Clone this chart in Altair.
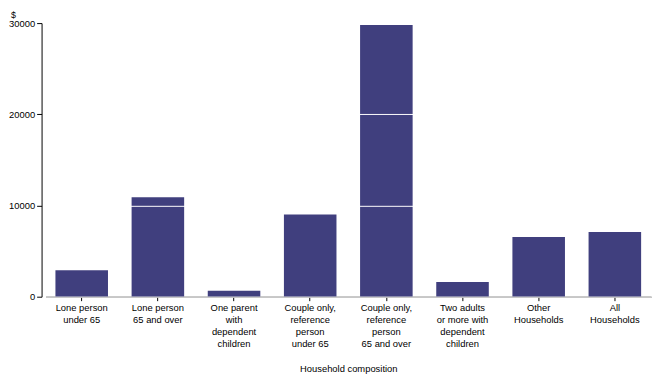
import altair as alt
import pandas as pd

categories = [
    "Lone person|under 65",
    "Lone person|65 and over",
    "One parent|with|dependent|children",
    "Couple only,|reference|person|under 65",
    "Couple only,|reference|person|65 and over",
    "Two adults|or more with|dependent|children",
    "Other|Households",
    "All|Households",
]
values = [2900, 10900, 650, 9000, 29800, 1600, 6550, 7100]
y_ticks = [0, 10000, 20000, 30000]

df = pd.DataFrame({"category": categories, "value": values})

FONT = "Liberation Sans"

chart = (
    alt.Chart(df)
    .mark_bar(color="#403F7E")
    .encode(
        x=alt.X(
            "category:N",
            sort=categories,
            title="Household composition",
            scale=alt.Scale(paddingInner=0.31, paddingOuter=0.13),
            axis=alt.Axis(
                labelAngle=0,
                labelExpr="split(datum.label, '|')",
                labelFont=FONT,
                labelFontSize=9.5,
                labelLineHeight=12,
                labelColor="black",
                labelPadding=2,
                labelBaseline="top",
                tickSize=4,
                tickColor="black",
                domainColor="black",
                titleFont=FONT,
                titleFontSize=9.5,
                titleFontWeight="normal",
                titleColor="black",
                titlePadding=16,
                grid=False,
            ),
        ),
        y=alt.Y(
            "value:Q",
            title="$",
            scale=alt.Scale(domain=[0, 30000], nice=False),
            axis=alt.Axis(
                values=y_ticks,
                format="d",
                offset=4,
                labelFont=FONT,
                labelFontSize=9.5,
                labelColor="black",
                labelPadding=2,
                tickSize=5,
                tickColor="black",
                domainColor="black",
                grid=True,
                gridColor="white",
                gridWidth=1,
                gridOpacity=1,
                zindex=1,
                titleFont=FONT,
                titleFontSize=9,
                titleFontWeight="normal",
                titleColor="black",
                titleAngle=0,
                titleAlign="center",
                titleBaseline="top",
                titleX=-29,
                titleY=-13,
            ),
        ),
    )
    .properties(
        width=613,
        height=277,
        autosize=alt.AutoSizeParams(type="none"),
        padding={"left": 38, "top": 13, "right": 2, "bottom": 78},
    )
    .configure_view(stroke=None)
    .configure_axisX(labelAlign="center")
)

chart.save("out.html", embed_options={"renderer": "svg", "actions": False})
